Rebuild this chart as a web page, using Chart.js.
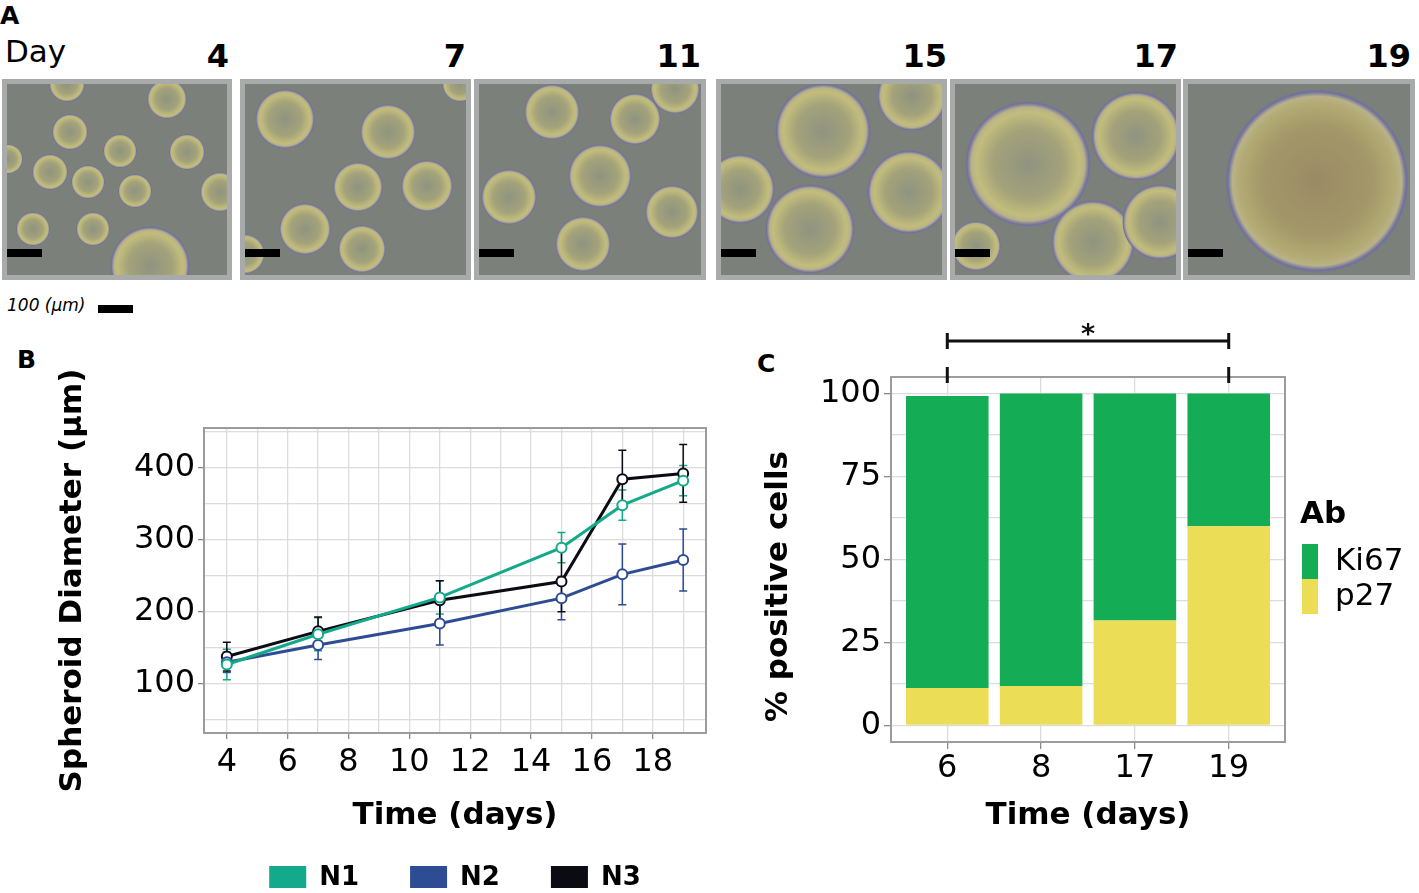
<!DOCTYPE html>
<html><head><meta charset="utf-8">
<script src="https://cdn.jsdelivr.net/npm/chart.js@4.4.1/dist/chart.umd.min.js"></script>
<style>
body{margin:0;background:#fff;width:1419px;height:893px;overflow:hidden;position:relative;font-family:"DejaVu Sans",sans-serif;color:#000;}
.t{position:absolute;white-space:nowrap;}
.frame{position:absolute;top:79px;height:201px;background:#a9abaa;box-sizing:border-box;padding:5px;}
.img{position:relative;width:100%;height:100%;background:#7c807b;overflow:hidden;}
.img i{position:absolute;border-radius:50%;background:radial-gradient(circle closest-side,#8f9480 0%,#a3a27a 55%,#c2bd7c 82%,#b9b289 90%,#6f70a0 97%,rgba(0,0,0,0) 100%);}
.img.late i{background:radial-gradient(circle closest-side,#9a8a66 0%,#a39869 60%,#b3ab74 85%,#b9b289 92%,#6f70a0 97%,rgba(0,0,0,0) 100%);}
.img b{position:absolute;left:0;bottom:18px;width:35px;height:8px;background:#000;}
canvas{position:absolute;}
</style></head><body>
<div class="t" style="left:0;top:3px;font-size:25px;line-height:25px;font-weight:bold;">A</div>
<div class="t" style="left:5px;top:36px;font-size:31px;line-height:31px;">Day</div>
<div class="t" style="right:1190px;top:40px;font-size:32px;line-height:32px;font-weight:bold;">4</div>
<div class="t" style="right:953px;top:40px;font-size:32px;line-height:32px;font-weight:bold;">7</div>
<div class="t" style="right:718px;top:40px;font-size:32px;line-height:32px;font-weight:bold;">11</div>
<div class="t" style="right:472px;top:40px;font-size:32px;line-height:32px;font-weight:bold;">15</div>
<div class="t" style="right:241px;top:40px;font-size:32px;line-height:32px;font-weight:bold;">17</div>
<div class="t" style="right:8px;top:40px;font-size:32px;line-height:32px;font-weight:bold;">19</div>

<div class="frame" style="left:2px;width:230px;"><div class="img">
<i style="left:45px;top:30px;width:36px;height:36px"></i><i style="left:96px;top:50px;width:34px;height:34px"></i><i style="left:162px;top:50px;width:36px;height:36px"></i><i style="left:25px;top:70px;width:36px;height:36px"></i><i style="left:64px;top:81px;width:34px;height:34px"></i><i style="left:111px;top:90px;width:34px;height:34px"></i><i style="left:9px;top:128px;width:34px;height:34px"></i><i style="left:69px;top:128px;width:34px;height:34px"></i><i style="left:140px;top:-5px;width:40px;height:40px"></i><i style="left:103px;top:142px;width:80px;height:80px"></i><i style="left:193px;top:88px;width:40px;height:40px"></i><i style="left:42px;top:-18px;width:36px;height:36px"></i><i style="left:-14px;top:60px;width:30px;height:30px"></i>
<b></b></div></div>
<div class="frame" style="left:240px;width:231px;"><div class="img">
<i style="left:10px;top:5px;width:60px;height:60px"></i><i style="left:115px;top:20px;width:56px;height:56px"></i><i style="left:88px;top:78px;width:50px;height:50px"></i><i style="left:156px;top:76px;width:52px;height:52px"></i><i style="left:34px;top:119px;width:52px;height:52px"></i><i style="left:93px;top:141px;width:48px;height:48px"></i><i style="left:197px;top:-18px;width:36px;height:36px"></i><i style="left:-20px;top:150px;width:40px;height:40px"></i>
<b></b></div></div>
<div class="frame" style="left:474px;width:232px;"><div class="img">
<i style="left:45px;top:0px;width:56px;height:56px"></i><i style="left:130px;top:9px;width:52px;height:52px"></i><i style="left:89px;top:60px;width:64px;height:64px"></i><i style="left:2px;top:85px;width:56px;height:56px"></i><i style="left:76px;top:132px;width:56px;height:56px"></i><i style="left:166px;top:101px;width:54px;height:54px"></i><i style="left:171px;top:-20px;width:50px;height:50px"></i>
<b></b></div></div>
<div class="frame" style="left:716px;width:231px;"><div class="img">
<i style="left:54px;top:-1px;width:96px;height:96px"></i><i style="left:-16px;top:70px;width:70px;height:70px"></i><i style="left:44px;top:100px;width:90px;height:90px"></i><i style="left:146px;top:66px;width:84px;height:84px"></i><i style="left:156px;top:-23px;width:70px;height:70px"></i>
<b></b></div></div>
<div class="frame" style="left:950px;width:231px;"><div class="img">
<i style="left:10px;top:17px;width:126px;height:126px"></i><i style="left:136px;top:7px;width:90px;height:90px"></i><i style="left:96px;top:116px;width:84px;height:84px"></i><i style="left:167px;top:100px;width:76px;height:76px"></i><i style="left:-4px;top:137px;width:50px;height:50px"></i>
<b></b></div></div>
<div class="frame" style="left:1183px;width:232px;"><div class="img late">
<i style="left:37px;top:5px;width:184px;height:184px"></i>
<b></b></div></div>

<div class="t" style="left:7px;top:297px;font-size:17px;line-height:17px;font-style:italic;">100 (µm)</div>
<div style="position:absolute;left:98px;top:305px;width:35px;height:8px;background:#000;"></div>
<div class="t" style="left:17px;top:347px;font-size:25px;line-height:25px;font-weight:bold;">B</div>
<div class="t" style="left:757px;top:351px;font-size:25px;line-height:25px;font-weight:bold;">C</div>

<canvas id="cb" width="740" height="553" style="left:0;top:340px;width:740px;height:553px;"></canvas>
<canvas id="cc" width="679" height="545" style="left:740px;top:300px;width:679px;height:545px;"></canvas>

<script>
// ---------- Panel B data ----------
const daysB = [4, 7, 11, 15, 17, 19];
const n1Mean = [127, 169, 220, 289, 348, 382];
const n1Err  = [21, 23, 23, 21, 21, 21];
const n2Mean = [130, 154, 184, 219, 252, 272];
const n2Err  = [14, 20, 30, 30, 42, 43];
const n3Mean = [138, 173, 216, 242, 384, 392];
const n3Err  = [20, 20, 27, 42, 40, 40];
const seriesNamesB = ['N1', 'N2', 'N3'];
const xTickLabelsB = [4, 6, 8, 10, 12, 14, 16, 18];
const xGridB = [4, 5, 6, 7, 8, 9, 10, 11, 12, 13, 14, 15, 16, 17, 18, 19];
const yTickLabelsB = [100, 200, 300, 400];
const yGridB = [50, 100, 150, 200, 250, 300, 350, 400, 450];

// ---------- Panel C data ----------
const daysC = ['6', '8', '17', '19'];
const p27Pct  = [11.3, 11.9, 31.6, 60.0];
const ki67Pct = [88.0, 88.1, 68.4, 40.0];
const yTickLabelsC = [0, 25, 50, 75, 100];
const yGridC = [0, 12.5, 25, 37.5, 50, 62.5, 75, 87.5, 100];
const sigPair = ['6', '19'];
const sigLabel = '*';

const FONT = '"DejaVu Sans", sans-serif';
const colB = ['#13a98b', '#2d4c93', '#0b0b14'];
const gridCol = '#dcdcdc';
const frameCol = '#9a9d9c';
const tickCol = '#8a8a8a';

const means = [n1Mean, n2Mean, n3Mean];
const errs = [n1Err, n2Err, n3Err];

const frameAndErr = {
  id: 'frameAndErr',
  beforeDatasetsDraw(chart) {
    const {ctx, scales: {x, y}} = chart;
    ctx.save();
    chart.data.datasets.forEach(ds => {
      if (!ds.errs) return;
      ctx.strokeStyle = ds.borderColor;
      ctx.lineWidth = 1.5;
      ds.data.forEach((p, i) => {
        const px = x.getPixelForValue(p.x);
        const y0 = y.getPixelForValue(p.y - ds.errs[i]);
        const y1 = y.getPixelForValue(p.y + ds.errs[i]);
        ctx.beginPath();
        ctx.moveTo(px, y0); ctx.lineTo(px, y1);
        ctx.moveTo(px - 4, y0); ctx.lineTo(px + 4, y0);
        ctx.moveTo(px - 4, y1); ctx.lineTo(px + 4, y1);
        ctx.stroke();
      });
    });
    ctx.restore();
  },
  afterDraw(chart) {
    const {ctx, chartArea: a} = chart;
    ctx.save();
    ctx.strokeStyle = frameCol; ctx.lineWidth = 2;
    ctx.strokeRect(a.left, a.top, a.right - a.left, a.bottom - a.top);
    ctx.restore();
  }
};

const legendB = {
  id: 'legendB',
  afterDraw(chart) {
    const {ctx, chartArea: a} = chart;
    const sw = 37, sh = 22, gap = 13, spacing = 51;
    ctx.save();
    ctx.font = 'bold 26px ' + FONT;
    const items = chart.data.datasets.map(ds => ({label: ds.label, color: ds.borderColor, w: sw + gap + ctx.measureText(ds.label).width}));
    const total = items.reduce((s, it) => s + it.w, 0) + spacing * (items.length - 1);
    let cx = (a.left + a.right) / 2 - total / 2;
    const top = a.bottom + 133;
    items.forEach(it => {
      ctx.fillStyle = it.color;
      ctx.fillRect(cx, top, sw, sh);
      ctx.fillStyle = '#000';
      ctx.textBaseline = 'middle';
      ctx.textAlign = 'left';
      ctx.fillText(it.label, cx + sw + gap, top + sh / 2 + 1);
      cx += it.w + spacing;
    });
    ctx.restore();
  }
};

new Chart(document.getElementById('cb'), {
  type: 'line',
  data: {
    datasets: seriesNamesB.map((name, si) => ({
      label: name,
      data: daysB.map((d, i) => ({x: d, y: means[si][i]})),
      errs: errs[si],
      borderColor: colB[si],
      backgroundColor: colB[si],
      pointBackgroundColor: '#ffffff',
      pointBorderColor: colB[si],
      pointBorderWidth: 2,
      pointRadius: 5,
      borderWidth: 3,
      tension: 0,
      fill: false
    }))
  },
  options: {
    responsive: false, animation: false, devicePixelRatio: 1,
    layout: {padding: {left: 50, top: 88, right: 34, bottom: 54}},
    plugins: {legend: {display: false}, tooltip: {enabled: false}},
    scales: {
      x: {
        type: 'linear', min: 3.25, max: 19.75,
        afterBuildTicks: s => { s.ticks = xGridB.map(v => ({value: v})); },
        afterFit: s => { s.height = 106; },
        ticks: {autoSkip: false, maxRotation: 0, padding: 4, color: '#000',
          font: {family: FONT, size: 32},
          callback: v => xTickLabelsB.includes(v) ? String(v) : ''},
        grid: {color: gridCol, lineWidth: 1.3, tickLength: 6,
          tickColor: c => (c.tick && xTickLabelsB.includes(c.tick.value)) ? tickCol : 'rgba(0,0,0,0)'},
        border: {display: false},
        title: {display: true, text: 'Time (days)', color: '#000', padding: {top: 0, bottom: 4},
          font: {family: FONT, size: 31, weight: 'bold'}}
      },
      y: {
        type: 'linear', min: 32, max: 455,
        afterBuildTicks: s => { s.ticks = yGridB.map(v => ({value: v})); },
        afterFit: s => { s.width = 154; },
        ticks: {autoSkip: false, padding: 3, color: '#000',
          font: {family: FONT, size: 32},
          callback: v => yTickLabelsB.includes(v) ? String(v) : ''},
        grid: {color: gridCol, lineWidth: 1.3, tickLength: 6,
          tickColor: c => (c.tick && yTickLabelsB.includes(c.tick.value)) ? tickCol : 'rgba(0,0,0,0)'},
        border: {display: false},
        title: {display: true, text: 'Spheroid Diameter (µm)', color: '#000', padding: {top: 4, bottom: 0},
          font: {family: FONT, size: 31, weight: 'bold'}}
      }
    }
  },
  plugins: [frameAndErr, legendB]
});

// ---------- Panel C ----------
const colC = {p27: '#ebdd55', ki67: '#14ad56'};
const yTitleC = '% positive cells';

const extrasC = {
  id: 'extrasC',
  afterDraw(chart) {
    const {ctx, chartArea: a, scales: {x}} = chart;
    ctx.save();
    ctx.strokeStyle = frameCol; ctx.lineWidth = 2;
    ctx.strokeRect(a.left, a.top, a.right - a.left, a.bottom - a.top);
    // y axis title
    ctx.save();
    ctx.translate(39, (a.top + a.bottom) / 2 + 27);
    ctx.rotate(-Math.PI / 2);
    ctx.fillStyle = '#000';
    ctx.font = 'bold 31px ' + FONT;
    ctx.textAlign = 'center'; ctx.textBaseline = 'middle';
    ctx.fillText(yTitleC, 0, 0);
    ctx.restore();
    // significance bracket
    const x0 = x.getPixelForValue(daysC.indexOf(sigPair[0]));
    const x1 = x.getPixelForValue(daysC.indexOf(sigPair[1]));
    const yl = a.top - 36;
    ctx.strokeStyle = '#111'; ctx.lineWidth = 3;
    ctx.beginPath();
    ctx.moveTo(x0, yl); ctx.lineTo(x1, yl);
    ctx.moveTo(x0, yl - 8); ctx.lineTo(x0, yl + 8);
    ctx.moveTo(x1, yl - 8); ctx.lineTo(x1, yl + 8);
    ctx.moveTo(x0, a.top - 10); ctx.lineTo(x0, a.top + 6);
    ctx.moveTo(x1, a.top - 10); ctx.lineTo(x1, a.top + 6);
    ctx.stroke();
    ctx.fillStyle = '#111';
    ctx.font = 'bold 27px ' + FONT;
    ctx.textAlign = 'center'; ctx.textBaseline = 'middle';
    ctx.fillText(sigLabel, (x0 + x1) / 2, yl - 5);
    // legend
    const lx = a.right + 17;
    ctx.textAlign = 'left';
    ctx.fillStyle = '#000';
    ctx.font = 'bold 31px ' + FONT;
    ctx.fillText('Ab', a.right + 15, a.top + 138);
    const items = chart.data.datasets.slice().reverse();
    ctx.font = '31px ' + FONT;
    items.forEach((ds, i) => {
      const top = a.top + 167 + i * 35;
      ctx.fillStyle = ds.backgroundColor;
      ctx.fillRect(lx, top, 16, 35);
      ctx.fillStyle = '#000';
      ctx.fillText(ds.label, lx + 33, top + 18);
    });
    ctx.restore();
  }
};

new Chart(document.getElementById('cc'), {
  type: 'bar',
  data: {
    datasets: [
      {label: 'p27', data: p27Pct.map((v, i) => ({x: i, y: v})), backgroundColor: colC.p27},
      {label: 'Ki67', data: ki67Pct.map((v, i) => ({x: i, y: v})), backgroundColor: colC.ki67}
    ]
  },
  options: {
    responsive: false, animation: false, devicePixelRatio: 1,
    layout: {padding: {left: 17, top: 77, right: 134, bottom: 6}},
    datasets: {bar: {barPercentage: 0.88, categoryPercentage: 1, borderWidth: 0}},
    plugins: {legend: {display: false}, tooltip: {enabled: false}},
    scales: {
      x: {
        type: 'linear', min: -0.6, max: 3.6, stacked: true, offset: false,
        afterBuildTicks: s => { s.ticks = daysC.map((d, i) => ({value: i})); },
        afterFit: s => { s.height = 97; },
        ticks: {autoSkip: false, maxRotation: 0, padding: 0, color: '#000',
          font: {family: FONT, size: 32},
          callback: v => daysC[v] !== undefined ? daysC[v] : ''},
        grid: {color: gridCol, lineWidth: 1.3, tickLength: 7, tickColor: tickCol, offset: false},
        border: {display: false},
        title: {display: true, text: 'Time (days)', color: '#000', padding: {top: 0, bottom: 4},
          font: {family: FONT, size: 31, weight: 'bold'}}
      },
      y: {
        type: 'linear', min: -5, max: 105, stacked: true,
        afterBuildTicks: s => { s.ticks = yGridC.map(v => ({value: v})); },
        afterFit: s => { s.width = 134; },
        ticks: {autoSkip: false, padding: 3, color: '#000',
          font: {family: FONT, size: 32},
          callback: v => yTickLabelsC.includes(v) ? String(v) : ''},
        grid: {color: gridCol, lineWidth: 1.3, tickLength: 7,
          tickColor: c => (c.tick && yTickLabelsC.includes(c.tick.value)) ? tickCol : 'rgba(0,0,0,0)'},
        border: {display: false},
        title: {display: false}
      }
    }
  },
  plugins: [extrasC]
});
</script>
</body></html>
